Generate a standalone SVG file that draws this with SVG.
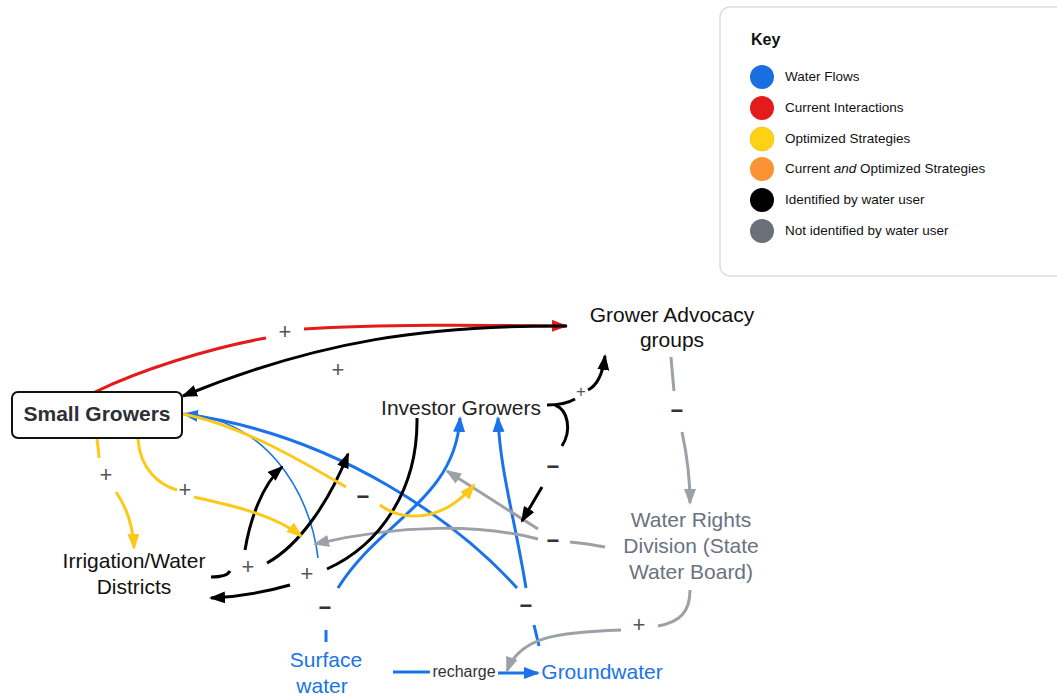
<svg xmlns="http://www.w3.org/2000/svg" width="1057" height="696" viewBox="0 0 1057 696">
<style>
.l{fill:none;stroke-width:3;stroke-linecap:butt}
.k{stroke:#000}.b{stroke:#1a73e8}.r{stroke:#e31b1b}.y{stroke:#fcc917}.g{stroke:#9ca1a8}
.t{font-family:"Liberation Sans",Arial,sans-serif;font-size:21px;text-anchor:middle}
.p{font-family:"Liberation Sans",Arial,sans-serif;font-size:22px;fill:#555;text-anchor:middle;dominant-baseline:central}
.m{font-family:"Liberation Sans",Arial,sans-serif;font-size:22px;font-weight:bold;fill:#333;text-anchor:middle;dominant-baseline:central}
.kt{font-family:"Liberation Sans",Arial,sans-serif;font-size:13.5px;fill:#111}
</style>
<defs>
<marker id="ak" markerUnits="userSpaceOnUse" markerWidth="16" markerHeight="12" refX="14" refY="6" orient="auto"><path d="M0,0 L16,6 L0,12 z" fill="#000"/></marker>
<marker id="ab" markerUnits="userSpaceOnUse" markerWidth="16" markerHeight="12" refX="14" refY="6" orient="auto"><path d="M0,0 L16,6 L0,12 z" fill="#1a73e8"/></marker>
<marker id="ar" markerUnits="userSpaceOnUse" markerWidth="16" markerHeight="12" refX="14" refY="6" orient="auto"><path d="M0,0 L16,6 L0,12 z" fill="#e31b1b"/></marker>
<marker id="ay" markerUnits="userSpaceOnUse" markerWidth="16" markerHeight="12" refX="14" refY="6" orient="auto"><path d="M0,0 L16,6 L0,12 z" fill="#fcc917"/></marker>
<marker id="ag" markerUnits="userSpaceOnUse" markerWidth="16" markerHeight="12" refX="14" refY="6" orient="auto"><path d="M0,0 L16,6 L0,12 z" fill="#9ca1a8"/></marker>
</defs>
<rect width="1057" height="696" fill="#fff"/>

<g id="key">
<rect x="720" y="7" width="350" height="269" rx="10" fill="#fff" stroke="#dcdde0" stroke-width="1.5"/>
<text x="751" y="45" font-family="Liberation Sans,Arial,sans-serif" font-size="16" font-weight="bold" fill="#111">Key</text>
<circle cx="762" cy="77" r="12" fill="#1a6fe0"/>
<text class="kt" x="785" y="81">Water Flows</text>
<circle cx="762" cy="108" r="12" fill="#e31b1b"/>
<text class="kt" x="785" y="112">Current Interactions</text>
<circle cx="762" cy="139" r="12" fill="#fcd116" stroke="#e0b800" stroke-width="0.5"/>
<text class="kt" x="785" y="143">Optimized Strategies</text>
<circle cx="762" cy="169" r="12" fill="#fb9334"/>
<text class="kt" x="785" y="173">Current <tspan font-style="italic">and</tspan> Optimized Strategies</text>
<circle cx="762" cy="200" r="12" fill="#000"/>
<text class="kt" x="785" y="204">Identified by water user</text>
<circle cx="762" cy="231" r="12" fill="#6b7079"/>
<text class="kt" x="785" y="235">Not identified by water user</text>
</g>

<g id="connectors">
<path class="l r" d="M95,392 C140,370 210,348 266,338"/>
<path class="l r" d="M304,329 C380,324 480,325 566,326" marker-end="url(#ar)"/>
<text class="p" x="285" y="331">+</text>
<path class="l k" d="M567,326 C430,325 320,340 183,396" marker-end="url(#ak)"/>
<text class="p" x="338" y="369">+</text>
<path class="l b" d="M517,588 C460,525 340,435 184,414" marker-end="url(#ab)"/>
<path class="l b" style="stroke-width:1.6" d="M318,558 C310,490 265,420 185,414"/>
<path class="l b" d="M338,588 C380,520 455,500 460,418" marker-end="url(#ab)"/>
<path class="l b" d="M526,588 C515,520 500,470 498,418" marker-end="url(#ab)"/>
<path class="l b" d="M326,630 L326,642"/>
<text class="m" x="325" y="607">−</text>
<path class="l b" d="M534,625 L539,646"/>
<text class="m" x="526" y="605">−</text>
<path class="l b" d="M393,672 L430,672"/>
<path class="l b" d="M498,673 L538,673" marker-end="url(#ab)"/>
<text x="464" y="677" font-family="Liberation Sans,Arial,sans-serif" font-size="16" fill="#333" text-anchor="middle">recharge</text>
<path class="l g" d="M690,590 C690,612 680,622 658,626"/>
<text class="p" x="639" y="624">+</text>
<path class="l g" d="M621,630 C560,632 520,636 507,671" marker-end="url(#ag)"/>
<path class="l g" d="M671,357 C672,370 673,380 674,391"/>
<text class="m" x="677" y="410">−</text>
<path class="l g" d="M682,432 C687,455 690,475 690,503" marker-end="url(#ag)"/>
<path class="l g" d="M605,547 C595,545 582,543 570,542"/>
<text class="m" x="553" y="540">−</text>
<path class="l g" d="M538,539 C480,524 400,524 315,544" marker-end="url(#ag)"/>
<path class="l g" d="M538,529 L447,471" marker-end="url(#ag)"/>
<path class="l k" d="M547,405 C560,405 570,402 575,399"/>
<text class="p" x="581" y="391" style="font-size:17px">+</text>
<path class="l k" d="M588,390 C598,385 603,372 605,356" marker-end="url(#ak)"/>
<path class="l k" d="M555,405 C568,410 572,430 562,446"/>
<text class="m" x="553" y="466">−</text>
<path class="l k" d="M542,487 L522,521" marker-end="url(#ak)"/>
<path class="l k" d="M417,418 C418,490 380,545 327,569"/>
<text class="p" x="307" y="573">+</text>
<path class="l k" d="M290,585 C262,593 235,597 211,598" marker-end="url(#ak)"/>
<path class="l k" d="M211,577 C220,577 228,575 230,571"/>
<text class="p" x="248" y="566">+</text>
<path class="l k" d="M245,550 C250,520 262,485 282,467" marker-end="url(#ak)"/>
<path class="l k" d="M267,563 C300,545 330,500 348,454" marker-end="url(#ak)"/>
<path class="l y" d="M97,439 C98,448 99,453 99,458"/>
<text class="p" x="106" y="474">+</text>
<path class="l y" d="M116,492 C125,505 133,525 134,548" marker-end="url(#ay)"/>
<path class="l y" d="M138,439 C140,470 160,485 177,490"/>
<text class="p" x="185" y="489">+</text>
<path class="l y" d="M194,497 C230,505 275,515 301,536" marker-end="url(#ay)"/>
<path class="l y" d="M183,414 C240,425 300,460 346,487"/>
<text class="m" x="363" y="496">−</text>
<path class="l y" d="M380,505 C400,520 440,525 474,485" marker-end="url(#ay)"/>
</g>

<g id="small-growers">
<rect x="12" y="392" width="170" height="46" rx="6" fill="#fff" stroke="#111" stroke-width="2"/>
<text class="t" x="97" y="421" font-weight="bold" fill="#2d2f36">Small Growers</text>
</g>
<g id="grower-advocacy">
<text class="t" x="672" y="322" fill="#111">Grower Advocacy</text>
<text class="t" x="672" y="347" fill="#111">groups</text>
</g>
<g id="investor-growers">
<text class="t" x="461" y="415" fill="#222">Investor Growers</text>
</g>
<g id="water-rights">
<text class="t" x="691" y="527" fill="#6b7280">Water Rights</text>
<text class="t" x="691" y="553" fill="#6b7280">Division (State</text>
<text class="t" x="691" y="579" fill="#6b7280">Water Board)</text>
</g>
<g id="irrigation">
<text class="t" x="134" y="568" fill="#111">Irrigation/Water</text>
<text class="t" x="134" y="594" fill="#111">Districts</text>
</g>
<g id="surface-water">
<text class="t" x="326" y="667" fill="#1a73e8">Surface</text>
<text class="t" x="322" y="693" fill="#1a73e8">water</text>
</g>
<g id="groundwater">
<text class="t" x="602" y="679" fill="#1a73e8">Groundwater</text>
</g>
</svg>
